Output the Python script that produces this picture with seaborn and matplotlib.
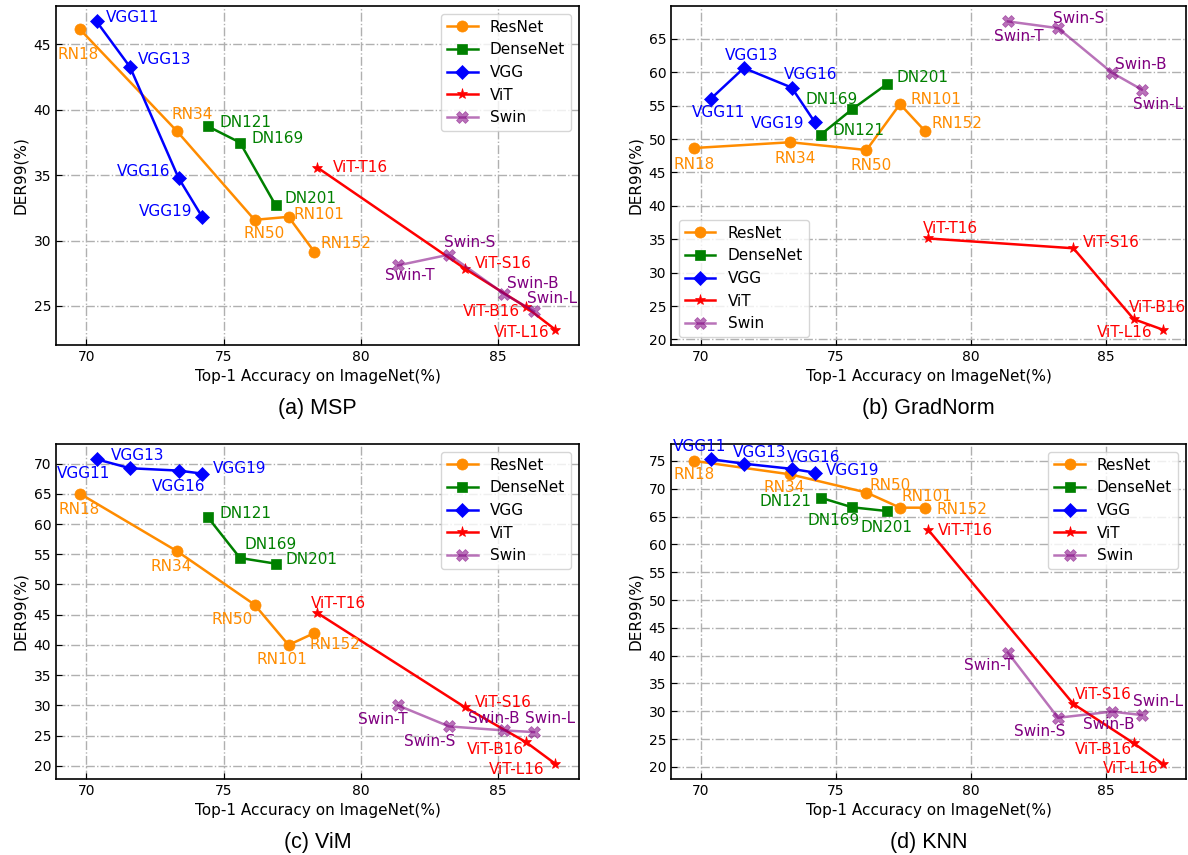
import matplotlib
matplotlib.use("Agg")
import matplotlib.pyplot as plt
from matplotlib.ticker import MultipleLocator
import seaborn as sns
import pandas as pd

# top-1 accuracy on ImageNet, per family
resnet_acc = [69.76, 73.31, 76.13, 77.37, 78.31]
densenet_acc = [74.43, 75.60, 76.90]
vgg_acc = [70.37, 71.59, 73.36, 74.22]
vit_acc = [78.42, 83.79, 86.02, 87.09]
swin_acc = [81.36, 83.22, 85.22, 86.32]

resnet_names = ["RN18", "RN34", "RN50", "RN101", "RN152"]
densenet_names = ["DN121", "DN169", "DN201"]
vgg_names = ["VGG11", "VGG13", "VGG16", "VGG19"]
vit_names = ["ViT-T16", "ViT-S16", "ViT-B16", "ViT-L16"]
swin_names = ["Swin-T", "Swin-S", "Swin-B", "Swin-L"]

# DER99 (%) for each OOD method
msp_resnet = [46.16, 38.34, 31.58, 31.81, 29.13]
msp_densenet = [38.73, 37.49, 32.69]
msp_vgg = [46.75, 43.27, 34.78, 31.81]
msp_vit = [35.58, 27.86, 24.92, 23.19]
msp_swin = [28.10, 28.92, 25.93, 24.59]

gradnorm_resnet = [48.67, 49.53, 48.37, 55.24, 51.15]
gradnorm_densenet = [50.64, 54.48, 58.28]
gradnorm_vgg = [56.05, 60.65, 57.72, 52.51]
gradnorm_vit = [35.12, 33.65, 23.04, 21.47]
gradnorm_swin = [67.63, 66.62, 59.94, 57.42]

vim_resnet = [65.03, 55.49, 46.66, 39.98, 41.96]
vim_densenet = [61.11, 54.38, 53.44]
vim_vgg = [70.72, 69.23, 68.84, 68.34]
vim_vit = [45.28, 29.71, 23.92, 20.33]
vim_swin = [29.99, 26.51, 25.85, 25.57]

knn_resnet = [75.00, 72.59, 69.32, 66.60, 66.60]
knn_densenet = [68.40, 66.67, 65.99]
knn_vgg = [75.31, 74.51, 73.58, 72.90]
knn_vit = [62.59, 31.30, 24.26, 20.56]
knn_swin = [40.56, 28.83, 29.94, 29.32]

families = ["ResNet", "DenseNet", "VGG", "ViT", "Swin"]
methods = ["MSP", "GradNorm", "ViM", "KNN"]
captions = ["(a) MSP", "(b) GradNorm", "(c) ViM", "(d) KNN"]

accs = [resnet_acc, densenet_acc, vgg_acc, vit_acc, swin_acc]
names = [resnet_names, densenet_names, vgg_names, vit_names, swin_names]
ders = {
    "MSP": [msp_resnet, msp_densenet, msp_vgg, msp_vit, msp_swin],
    "GradNorm": [gradnorm_resnet, gradnorm_densenet, gradnorm_vgg, gradnorm_vit, gradnorm_swin],
    "ViM": [vim_resnet, vim_densenet, vim_vgg, vim_vit, vim_swin],
    "KNN": [knn_resnet, knn_densenet, knn_vgg, knn_vit, knn_swin],
}

rows = []
for m in methods:
    for fam, acc, nm, der in zip(families, accs, names, ders[m]):
        for a, n, d in zip(acc, nm, der):
            rows.append({"Method": m, "Family": fam, "Model": n, "Acc": a, "DER": d})
df = pd.DataFrame(rows)

# styles
colors = {"ResNet": "darkorange", "DenseNet": "green", "VGG": "blue", "ViT": "red", "Swin": "purple"}
markers = {"ResNet": "o", "DenseNet": "s", "VGG": "D", "ViT": "*", "Swin": "X"}
msizes = {"ResNet": 8, "DenseNet": 7.5, "VGG": 7.5, "ViT": 8, "Swin": 8}
alphas = {"ResNet": 1.0, "DenseNet": 1.0, "VGG": 1.0, "ViT": 1.0, "Swin": 0.55}

# label offsets (points) of text centre from the marker
offsets = {
    "MSP": {
        "RN18": (-1, -18), "RN34": (11, 12), "RN50": (7, -10), "RN101": (22, 2), "RN152": (23, 6),
        "DN121": (27, 2.5), "DN169": (27, 3), "DN201": (25, 5),
        "VGG11": (26, 3), "VGG13": (25, 5), "VGG16": (-25, 4.6), "VGG19": (-26, 4),
        "ViT-T16": (31, 0), "ViT-S16": (27.5, 3.6), "ViT-B16": (-25, -3), "ViT-L16": (-24, -2),
        "Swin-T": (8.5, -7), "Swin-S": (14.6, 9), "Swin-B": (21, 7.7), "Swin-L": (13, 9.4),
    },
    "GradNorm": {
        "RN18": (-0.5, -12), "RN34": (3.5, -11.6), "RN50": (3.5, -11.4), "RN101": (26, 3), "RN152": (23, 5.8),
        "DN121": (27, 3.4), "DN169": (-15, 7.3), "DN201": (25, 4.6),
        "VGG11": (5.7, -10), "VGG13": (5.5, 9.2), "VGG16": (13.6, 9.2), "VGG19": (-27, -1),
        "ViT-T16": (15.6, 7.3), "ViT-S16": (27, 3.9), "ViT-B16": (17, 8.7), "ViT-L16": (-27, -2),
        "Swin-T": (8, -11), "Swin-S": (15, 7), "Swin-B": (21, 6), "Swin-L": (11.5, -11),
    },
    "ViM": {
        "RN18": (-0.5, -11.5), "RN34": (-4.4, -11), "RN50": (-16, -10.6), "RN101": (-5, -10.3), "RN152": (14.6, -8.4),
        "DN121": (27, 2.9), "DN169": (22, 9.6), "DN201": (26, 3.1),
        "VGG11": (-9, -10.3), "VGG13": (5.5, 8.9), "VGG16": (0, -11.3), "VGG19": (26.7, 4),
        "ViT-T16": (15.4, 6.7), "ViT-S16": (27.5, 3.4), "ViT-B16": (-22, -5.3), "ViT-L16": (-27.5, -4.3),
        "Swin-T": (-11, -10.3), "Swin-S": (-14, -10.8), "Swin-B": (-7, 8.9), "Swin-L": (11.5, 10),
    },
    "KNN": {
        "RN18": (-0.5, -9.8), "RN34": (-4.4, -9.6), "RN50": (17, 5), "RN101": (19.7, 8.2), "RN152": (26, -1.2),
        "DN121": (-25, -2.9), "DN169": (-13.4, -9.6), "DN201": (-0.5, -12),
        "VGG11": (-8.2, 8.9), "VGG13": (11.5, 8.4), "VGG16": (15.6, 8.4), "VGG19": (27.3, 1.7),
        "ViT-T16": (27, -0.7), "ViT-S16": (21.3, 6.7), "ViT-B16": (-21.6, -4.3), "ViT-L16": (-23, -3.4),
        "Swin-T": (-13.6, -9.6), "Swin-S": (-13.4, -9.8), "Swin-B": (-2, -9.4), "Swin-L": (11.7, 9.6),
    },
}
legend_loc = {"MSP": "upper right", "GradNorm": "lower left", "ViM": "upper right", "KNN": "upper right"}

W, H = 1188, 855
rects = [
    (56 / W, (H - 345) / H, 523 / W, 339 / H),
    (671 / W, (H - 345) / H, 515 / W, 339 / H),
    (56 / W, (H - 779) / H, 523 / W, 335 / H),
    (671 / W, (H - 779) / H, 515 / W, 335 / H),
]

plt.rcParams["font.family"] = ["DejaVu Sans"]
fig = plt.figure(figsize=(11.88, 8.55), dpi=100)

for m, cap, rect in zip(methods, captions, rects):
    ax = fig.add_axes(rect)
    sub = df[df["Method"] == m]
    for fam in families:
        d = sub[sub["Family"] == fam]
        sns.lineplot(
            data=d, x="Acc", y="DER",
            color=colors[fam], marker=markers[fam], markersize=msizes[fam],
            markeredgecolor=colors[fam], markeredgewidth=0.5,
            linewidth=1.8, alpha=alphas[fam],
            estimator=None, sort=False, label=fam, ax=ax,
        )
        for _, r in d.iterrows():
            ax.annotate(r["Model"], (r["Acc"], r["DER"]), xytext=offsets[m][r["Model"]],
                        textcoords="offset points", ha="center", va="center",
                        color=colors[fam], fontsize=11)

    ax.yaxis.set_major_locator(MultipleLocator(5))
    ax.xaxis.set_major_locator(MultipleLocator(5))
    ax.grid(True, linestyle="-.", color="#b0b0b0", linewidth=1)
    ax.set_axisbelow(True)
    ax.tick_params(direction="in", labelsize=10, length=4)
    for s in ax.spines.values():
        s.set_linewidth(1.2)
    ax.set_xlabel("Top-1 Accuracy on ImageNet(%)", fontsize=11)
    ax.set_ylabel("DER99(%)", fontsize=11)
    ax.legend(loc=legend_loc[m], fontsize=11)
    ax.annotate(cap, xy=(0.5, 0), xycoords="axes fraction", xytext=(0, -46),
                textcoords="offset points", ha="center", va="center",
                fontsize=15.5, family="Liberation Sans")

plt.savefig("out.png", dpi=100)
